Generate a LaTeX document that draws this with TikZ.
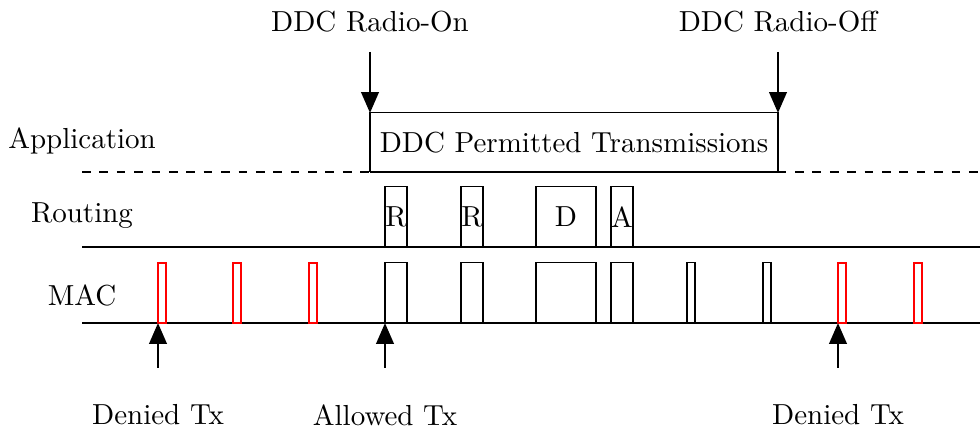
\documentclass[tikz,border=0pt]{standalone}
\usetikzlibrary{arrows.meta}
\begin{document}
\begin{tikzpicture}[x=0.345pt,y=-0.345pt,
  lane/.style={line width=0.9pt},
  pkt/.style={draw,line width=0.35pt},
  redpkt/.style={draw=red,line width=0.4pt},
  evt/.style={line width=0.9pt,-{Triangle[width=6pt,length=7.2pt]}},
  lbl/.style={inner sep=0pt,font=\normalsize}]
\useasboundingbox (0,0) rectangle (980,432);

% layer names
\node[lbl] (app) at (82,141) {Application};
\node[lbl] (rt)  at (82,216) {Routing};
\node[lbl] (mac) at (82,295) {MAC};

% layer boundaries
\coordinate (dl) at (82,172);
\coordinate (dr) at (980,172);
\coordinate (rl) at (82,247);
\coordinate (rr) at (980,247);
\coordinate (ml) at (82,323);
\coordinate (mr) at (980,323);
\draw[lane,dashed] (dl) -- (dr);
\draw[lane] (rl) -- (rr);
\draw[lane] (ml) -- (mr);

% DDC window
\coordinate (wnw) at (370,113);
\coordinate (wne) at (778,113);
\coordinate (wse) at (778,172);
\fill[white] (wnw) rectangle (wse);
\draw[pkt] (wnw) rectangle (wse);
\draw[lane] (370,172) -- (wse);
\node[lbl] (win) at (574,143) {DDC Permitted Transmissions};

% routing packets
\foreach \x/\w/\t in {385/22/R,461/22/R,536/60/D,611/22/A}{
  \draw[pkt] (\x,187) rectangle ++(\w,60);
  \node[lbl] at (\x+\w/2,217) {\t};
}

% MAC frames
\foreach \x/\w in {385/22,461/22,536/60,611/22,687/8,763/8}
  \draw[pkt] (\x,263) rectangle ++(\w,60);
\foreach \x in {158,233,309,838,914}
  \draw[redpkt] (\x,263) rectangle ++(8,60);

% radio on/off events
\node[lbl] (on)  at (370,22) {DDC Radio-On};
\node[lbl] (off) at (778,22) {DDC Radio-Off};
\coordinate (ont) at (370,52);
\coordinate (offt) at (778,52);
\draw[evt] (ont) -- (wnw);
\draw[evt] (offt) -- (wne);

% transmission attempts
\node[lbl] (d1) at (158,415) {Denied Tx};
\node[lbl] (al) at (385,415) {Allowed Tx};
\node[lbl] (d2) at (838,415) {Denied Tx};
\coordinate (d1b) at (158,368);
\coordinate (alb) at (385,368);
\coordinate (d2b) at (838,368);
\coordinate (d1t) at (158,323);
\coordinate (alt) at (385,323);
\coordinate (d2t) at (838,323);
\draw[evt] (d1b) -- (d1t);
\draw[evt] (alb) -- (alt);
\draw[evt] (d2b) -- (d2t);
\end{tikzpicture}
\end{document}
